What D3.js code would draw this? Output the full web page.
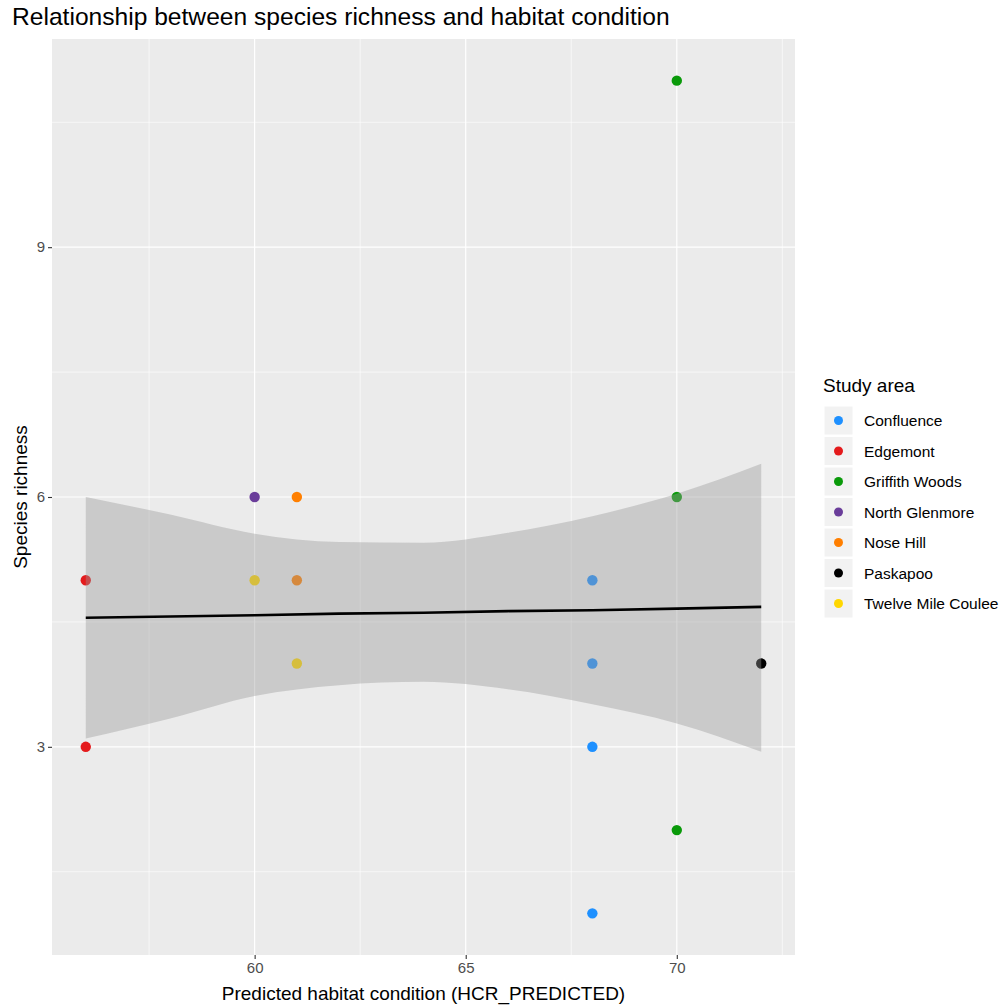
<!DOCTYPE html>
<html>
<head>
<meta charset="utf-8">
<script src="https://cdn.jsdelivr.net/npm/d3@7"></script>
<style>
  body { margin: 0; background: #fff; }
  text { font-family: "Liberation Sans", Arial, sans-serif; }
</style>
</head>
<body>
<div id="container"></div>
<script>
// study areas and their colours
const areas = ["Confluence", "Edgemont", "Griffith Woods", "North Glenmore", "Nose Hill", "Paskapoo", "Twelve Mile Coulee"];
const areaColors = ["#1e90ff", "#e41a1c", "#0a9a0a", "#6a3d9a", "#ff7f00", "#000000", "#ffd700"];

// observed points (habitat condition, richness, area)
const pointX = [68, 68, 68, 68, 56, 56, 70, 70, 70, 60, 61, 61, 72, 60, 61];
const pointY = [5, 4, 3, 1, 5, 3, 11, 6, 2, 6, 6, 5, 4, 5, 4];
const pointArea = ["Confluence", "Confluence", "Confluence", "Confluence", "Edgemont", "Edgemont",
  "Griffith Woods", "Griffith Woods", "Griffith Woods", "North Glenmore", "Nose Hill", "Nose Hill",
  "Paskapoo", "Twelve Mile Coulee", "Twelve Mile Coulee"];

// linear fit with its 95% band
const fitX = [56, 58, 60, 62, 64, 66, 68, 70, 72];
const fitY = [4.55, 4.565, 4.58, 4.60, 4.61, 4.63, 4.64, 4.66, 4.68];
const bandUpper = [6.00, 5.79, 5.56, 5.46, 5.45, 5.57, 5.77, 6.04, 6.40];
const bandLower = [3.10, 3.34, 3.61, 3.74, 3.78, 3.69, 3.51, 3.28, 2.94];

const xTicks = [60, 65, 70];
const xMinor = [57.5, 62.5, 67.5, 72.5];
const yTicks = [3, 6, 9];
const yMinor = [1.5, 4.5, 7.5, 10.5];

const width = 1000;
const height = 1005;
const panel = {left: 52, right: 795, top: 39, bottom: 955};

const svg = d3.select("#container")
  .append("svg")
  .attr("width", width)
  .attr("height", height);

const x = d3.scaleLinear().domain([55.2, 72.8]).range([panel.left, panel.right]);
const y = d3.scaleLinear().domain([0.5, 11.5]).range([panel.bottom, panel.top]);
const color = d3.scaleOrdinal().domain(areas).range(areaColors);

// title
svg.append("text")
  .attr("x", 12)
  .attr("y", 25)
  .attr("font-size", 24.6)
  .attr("fill", "#000")
  .text("Relationship between species richness and habitat condition");

// panel background
svg.append("rect")
  .attr("x", panel.left)
  .attr("y", panel.top)
  .attr("width", panel.right - panel.left)
  .attr("height", panel.bottom - panel.top)
  .attr("fill", "#ebebeb");

// grid lines, minor first
const grid = svg.append("g");
xMinor.forEach(v => {
  grid.append("line")
    .attr("x1", x(v)).attr("x2", x(v))
    .attr("y1", panel.top).attr("y2", panel.bottom)
    .attr("stroke", "#fff").attr("stroke-width", 0.6);
});
yMinor.forEach(v => {
  grid.append("line")
    .attr("x1", panel.left).attr("x2", panel.right)
    .attr("y1", y(v)).attr("y2", y(v))
    .attr("stroke", "#fff").attr("stroke-width", 0.6);
});
xTicks.forEach(v => {
  grid.append("line")
    .attr("x1", x(v)).attr("x2", x(v))
    .attr("y1", panel.top).attr("y2", panel.bottom)
    .attr("stroke", "#fff").attr("stroke-width", 1.2);
});
yTicks.forEach(v => {
  grid.append("line")
    .attr("x1", panel.left).attr("x2", panel.right)
    .attr("y1", y(v)).attr("y2", y(v))
    .attr("stroke", "#fff").attr("stroke-width", 1.2);
});

// points
pointX.forEach((v, i) => {
  svg.append("circle")
    .attr("cx", x(v))
    .attr("cy", y(pointY[i]))
    .attr("r", 5.2)
    .attr("fill", color(pointArea[i]));
});

// confidence band over the points
const band = fitX.map((v, i) => [v, bandLower[i], bandUpper[i]]);
svg.append("path")
  .datum(band)
  .attr("d", d3.area()
    .x(d => x(d[0]))
    .y0(d => y(d[1]))
    .y1(d => y(d[2]))
    .curve(d3.curveMonotoneX))
  .attr("fill", "#999999")
  .attr("fill-opacity", 0.4);

// fitted line
svg.append("path")
  .datum(fitX.map((v, i) => [v, fitY[i]]))
  .attr("d", d3.line().x(d => x(d[0])).y(d => y(d[1])))
  .attr("fill", "none")
  .attr("stroke", "#000")
  .attr("stroke-width", 2.6);

// axes
const xAxis = svg.append("g")
  .attr("transform", `translate(0,${panel.bottom})`)
  .call(d3.axisBottom(x).tickValues(xTicks).tickSize(4).tickPadding(3));
const yAxis = svg.append("g")
  .attr("transform", `translate(${panel.left},0)`)
  .call(d3.axisLeft(y).tickValues(yTicks).tickSize(4).tickPadding(3));
[xAxis, yAxis].forEach(a => {
  a.select(".domain").remove();
  a.selectAll(".tick line").attr("stroke", "#333").attr("stroke-width", 1.1);
  a.selectAll(".tick text")
    .attr("fill", "#4d4d4d")
    .attr("font-size", 15)
    .attr("font-family", "Liberation Sans, Arial, sans-serif");
});

// axis titles
svg.append("text")
  .attr("x", (panel.left + panel.right) / 2)
  .attr("y", 1000)
  .attr("text-anchor", "middle")
  .attr("font-size", 19)
  .text("Predicted habitat condition (HCR_PREDICTED)");

svg.append("text")
  .attr("transform", `translate(27,${(panel.top + panel.bottom) / 2}) rotate(-90)`)
  .attr("text-anchor", "middle")
  .attr("font-size", 19)
  .text("Species richness");

// legend
const legend = svg.append("g").attr("transform", "translate(823,0)");
legend.append("text")
  .attr("x", 0)
  .attr("y", 392)
  .attr("font-size", 19)
  .text("Study area");

const keySize = 29;
areas.forEach((a, i) => {
  const top = 406 + i * 30.5;
  legend.append("rect")
    .attr("x", 1)
    .attr("y", top)
    .attr("width", keySize)
    .attr("height", keySize)
    .attr("fill", "#f2f2f2")
    .attr("stroke", "#fff")
    .attr("stroke-width", 1);
  legend.append("circle")
    .attr("cx", 1 + keySize / 2)
    .attr("cy", top + keySize / 2)
    .attr("r", 4.5)
    .attr("fill", color(a));
  legend.append("text")
    .attr("x", 41)
    .attr("y", top + keySize / 2 + 5.5)
    .attr("font-size", 15.5)
    .text(a);
});
</script>
</body>
</html>
